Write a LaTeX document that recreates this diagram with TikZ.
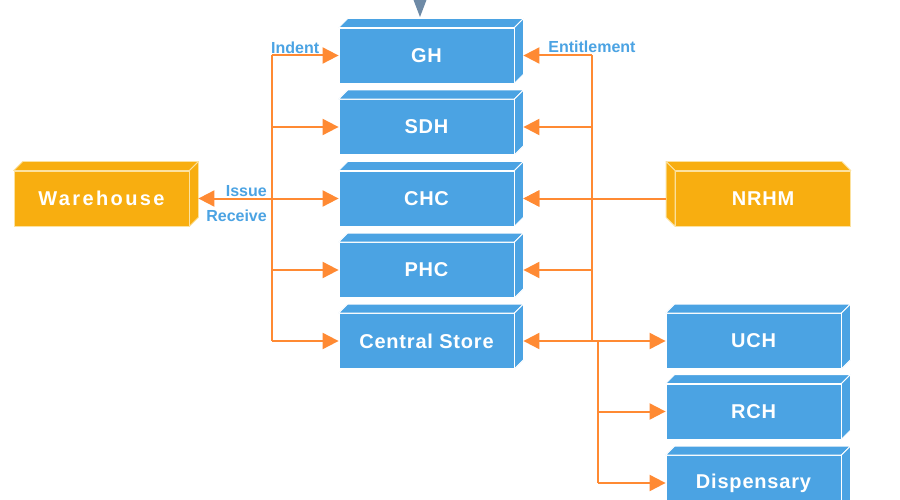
\documentclass[tikz,border=0pt]{standalone}
\usepackage{fontspec}
\setmainfont{Liberation Sans}
\newfontfamily\boxfont[LetterSpace=4]{Liberation Sans}
\newfontfamily\widefont[LetterSpace=12]{Liberation Sans}
\usetikzlibrary{arrows.meta}

\definecolor{boxblue}{HTML}{4BA3E3}
\definecolor{boxorange}{HTML}{F8AE10}
\definecolor{rimyellow}{HTML}{FCE2A0}
\definecolor{floworange}{HTML}{FF8A33}
\definecolor{notetext}{HTML}{4BA3E3}
\definecolor{slate}{HTML}{6E8AA6}

\tikzset{
    unit/.style={fill=boxblue, draw=white, line width=0.8pt, minimum width=175pt,
        minimum height=55pt, inner sep=0pt, text=white,
        font=\boxfont\bfseries\fontsize{20}{24}\selectfont},
    source/.style={unit, fill=boxorange, draw=rimyellow},
    face/.style={fill=boxblue, draw=white, line width=0.8pt, line join=round},
    sourceface/.style={face, fill=boxorange, draw=rimyellow},
    link/.style={draw=floworange, line width=2pt},
    tip/.style={-{Triangle[length=16pt,width=16pt]}},
    note/.style={text=notetext, inner sep=2pt, font=\bfseries\fontsize{16}{18}\selectfont},
}

\begin{document}
\begin{tikzpicture}[x=1pt, y=-1pt]
    \useasboundingbox[fill=white] (0,0) rectangle (900,500);

    % pointer from above
    \fill[slate] (412,-4) -- (428,-4) -- (420,17) -- cycle;

    % stock levels
    \node[unit] (gh) at (426.5,55.5) {GH};
    \node[unit] (sdh) at (426.5,127) {SDH};
    \node[unit] (chc) at (426.5,198.5) {CHC};
    \node[unit] (phc) at (426.5,270) {PHC};
    \node[unit] (cs) at (426.5,341) {Central Store};
    \node[unit] (uch) at (753.5,341) {UCH};
    \node[unit] (rch) at (753.5,411.5) {RCH};
    \node[unit] (disp) at (753.5,483) {Dispensary};
    \node[source, font=\widefont\bfseries\fontsize{20}{24}\selectfont] (wh) at (101.5,198.5) {Warehouse};
    \node[source] (nrhm) at (763,198.5) {NRHM};

    % box depth
    \foreach \n in {gh,sdh,chc,phc,cs,uch,rch,disp} {
        \filldraw[face] (\n.north west) -- ([shift={(9pt,9pt)}]\n.north west)
            -- ([shift={(9pt,9pt)}]\n.north east) -- (\n.north east) -- cycle;
        \filldraw[face] (\n.north east) -- ([shift={(9pt,9pt)}]\n.north east)
            -- ([shift={(9pt,9pt)}]\n.south east) -- (\n.south east) -- cycle;
    }
    \filldraw[sourceface] (wh.north west) -- ([shift={(9pt,9pt)}]wh.north west)
        -- ([shift={(9pt,9pt)}]wh.north east) -- (wh.north east) -- cycle;
    \filldraw[sourceface] (wh.north east) -- ([shift={(9pt,9pt)}]wh.north east)
        -- ([shift={(9pt,9pt)}]wh.south east) -- (wh.south east) -- cycle;
    \filldraw[sourceface] (nrhm.north east) -- ([shift={(-9pt,9pt)}]nrhm.north east)
        -- ([shift={(-9pt,9pt)}]nrhm.north west) -- (nrhm.north west) -- cycle;
    \filldraw[sourceface] (nrhm.north west) -- ([shift={(-9pt,9pt)}]nrhm.north west)
        -- ([shift={(-9pt,9pt)}]nrhm.south west) -- (nrhm.south west) -- cycle;

    % trunks
    \coordinate (lt) at (272,0);
    \coordinate (rt) at (592,0);
    \coordinate (dt) at (598,0);

    % indent / issue side
    \draw[link] (gh.west -| lt) -- (cs.west -| lt);
    \foreach \n in {gh,sdh,chc,phc,cs}
        \draw[link,tip] (\n.west -| lt) -- (\n.west);
    \draw[link,tip] (chc.west -| lt) -- ([xshift=9pt]wh.east);
    \node[note, anchor=south west, xshift=-3pt] (indent) at (gh.west -| lt) {Indent};
    \node[note, anchor=south east, xshift=-3pt] (issue) at (chc.west -| lt) {Issue};
    \node[note, anchor=north east, xshift=-3pt, yshift=-9pt] (receive) at (chc.west -| lt) {Receive};

    % entitlement side
    \draw[link] (gh.east -| rt) -- (cs.east -| rt);
    \foreach \n in {gh,sdh,chc,phc}
        \draw[link,tip] (\n.east -| rt) -- ([xshift=9pt]\n.east);
    \draw[link,tip] ([xshift=-9pt]nrhm.west) -- ([xshift=9pt]chc.east);
    \draw[link,{Triangle[length=16pt,width=16pt]}-{Triangle[length=16pt,width=16pt]}]
        ([xshift=9pt]cs.east) -- (uch.west);
    \draw[link] (cs.east -| dt) -- (disp.west -| dt);
    \foreach \n in {rch,disp}
        \draw[link,tip] (\n.west -| dt) -- (\n.west);
    \node[note, anchor=south, yshift=1pt] (entitle) at (gh.east -| rt) {Entitlement};
\end{tikzpicture}
\end{document}
